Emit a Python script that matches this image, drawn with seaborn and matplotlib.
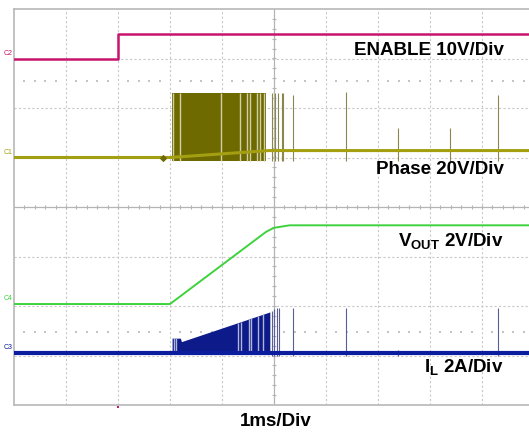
import numpy as np
import pandas as pd
import matplotlib
matplotlib.use("Agg")
import matplotlib.pyplot as plt
import seaborn as sns

sns.set_style("white")
plt.rcParams['font.family'] = ['Liberation Sans', 'DejaVu Sans']
plt.rcParams['mathtext.fontset'] = 'custom'
plt.rcParams['mathtext.rm'] = 'Liberation Sans'
plt.rcParams['mathtext.bf'] = 'Liberation Sans:bold'

# Time axis in divisions (1 ms/div), vertical axis in screen divisions (0 = bottom)
enable_t = [0.0, 2.0, 2.0, 10.2]
enable_v = [6.99, 6.99, 7.5, 7.5]

phase_t = [0.0, 3.0, 4.9, 10.2]
phase_v = [5.0, 5.0, 5.14, 5.14]
phase_burst_t = [3.04, 4.85]
phase_burst_top = 6.3
phase_burst_bottom = 4.92
phase_gap_t = [3.06, 3.19, 3.99, 4.35, 4.48, 4.54, 4.67, 4.73, 4.8]
phase_spike_t = [4.96, 5.02, 5.08, 5.15, 5.18, 5.37, 6.38, 7.38, 8.38, 9.31]
phase_spike_top = [6.3, 6.3, 6.3, 6.3, 6.3, 6.26, 6.32, 5.6, 5.6, 6.26]

vout_t = [0.0, 3.0, 4.85, 5.0, 5.3, 10.2]
vout_v = [2.04, 2.04, 3.5, 3.58, 3.63, 3.63]

il_t = [0.0, 10.2]
il_v = [1.05, 1.05]
il_env_t = [3.04, 3.2, 3.22, 4.92]
il_env_top = [1.35, 1.35, 1.28, 1.88]
il_gap_t = [3.08, 3.12, 4.31, 4.36, 4.52, 4.56, 4.7, 4.79]
il_spike_t = [4.96, 5.0, 5.05, 5.1, 5.37, 6.38, 7.38, 9.31]
il_spike_top = [1.9, 1.93, 1.95, 1.95, 1.96, 1.96, 1.11, 1.96]

c_enable = '#c8146e'
c_phase = '#a49f10'
c_phase_dark = '#6e6a00'
c_vout = '#3ed23e'
c_il = '#0c1c9e'

fig = plt.figure(figsize=(5.29, 4.34), dpi=100)
ax = fig.add_axes([14 / 529, 29 / 434, 520 / 529, 396 / 434])
ax.set_xlim(0, 10)
ax.set_ylim(0, 8)

# graticule
for gx in range(1, 10):
    if gx != 5:
        ax.axvline(gx, color='#c8c8c8', lw=0.8, ls=(0, (2, 2)), zorder=0)
for gy in range(1, 8):
    if gy != 4:
        ax.axhline(gy, color='#c8c8c8', lw=0.8, ls=(0, (2, 2)), zorder=0)
ax.axvline(5, color='#b4b4b4', lw=0.9, zorder=0)
ax.axhline(4, color='#b4b4b4', lw=0.9, zorder=0)
minor_x = np.arange(0.2, 10, 0.2)
minor_y = np.arange(0.2, 8, 0.2)
ax.scatter(minor_x, np.full_like(minor_x, 4.0), marker='|', s=12, color='#b4b4b4', lw=0.8, zorder=0)
ax.scatter(np.full_like(minor_y, 5.0), minor_y, marker='_', s=12, color='#b4b4b4', lw=0.8, zorder=0)
dots_x = [v for v in minor_x if abs(v - round(v)) > 0.05]
ax.scatter(dots_x, np.full(len(dots_x), 6.55), marker='s', s=1.2, lw=0, color='#c4c4c4', zorder=0)
ax.scatter(dots_x, np.full(len(dots_x), 1.47), marker='s', s=1.2, lw=0, color='#c4c4c4', zorder=0)

for sp in ax.spines.values():
    sp.set_color('#b8b8b8')
    sp.set_linewidth(1.2)
ax.set_xticks([])
ax.set_yticks([])

# phase burst
ax.fill_between(phase_burst_t, phase_burst_bottom, phase_burst_top, color=c_phase_dark, lw=0, zorder=2)
ax.vlines(phase_gap_t, phase_burst_bottom, phase_burst_top, color='#cfcfa8', lw=1.0, zorder=2)
ax.vlines(phase_spike_t, 4.92, phase_spike_top, color='#8a8650', lw=0.8, zorder=2)

# IL burst
ax.fill_between(il_env_t, 1.02, il_env_top, color='#0d1a8a', lw=0, zorder=2)
ax.vlines(il_gap_t, 1.1, np.interp(il_gap_t, il_env_t, il_env_top), color='#b0b4d6', lw=1.0, zorder=2)
ax.vlines(il_spike_t, 1.0, il_spike_top, color='#5a5e96', lw=0.8, zorder=2)

traces = [
    (enable_t, enable_v, c_enable, 1.8),
    (phase_t, phase_v, c_phase, 2.2),
    (vout_t, vout_v, c_vout, 1.4),
    (il_t, il_v, c_il, 3.0),
]
for t, v, c, w in traces:
    df = pd.DataFrame({'t': t, 'v': v})
    sns.lineplot(data=df, x='t', y='v', ax=ax, color=c, lw=w, sort=False,
                 estimator=None, zorder=3)
ax.set_xlabel('')
ax.set_ylabel('')

ax.scatter([2.87], [5.0], marker='D', s=8, color=c_phase_dark, zorder=4)
ax.scatter([2.0], [-0.05], marker='s', s=3, lw=0, color=c_enable, clip_on=False, zorder=4)

# channel markers
for y, lab, c in [(6.99, 'C2', c_enable), (5.0, 'C1', c_phase),
                  (2.04, 'C4', c_vout), (1.05, 'C3', c_il)]:
    ax.text(-0.03, y + 0.04, lab, color=c, fontsize=5, ha='right', va='bottom', clip_on=False)

lab_kw = dict(fontsize=13.5, fontweight='bold', ha='right', va='center', color='black')
ax.text(9.42, 7.17, 'ENABLE 10V/Div', **lab_kw)
ax.text(9.42, 4.75, 'Phase 20V/Div', **lab_kw)
ax.text(9.42, 3.29, r'V$_{\mathbf{OUT}}$ 2V/Div', **lab_kw)
ax.text(9.42, 0.75, r'I$_{\mathbf{L}}$ 2A/Div', **lab_kw)
fig.text(276 / 529, 1 - 422 / 434, '1ms/Div', fontsize=13.5, fontweight='bold',
         ha='center', va='center', color='black')

fig.savefig('out.png', dpi=100)
